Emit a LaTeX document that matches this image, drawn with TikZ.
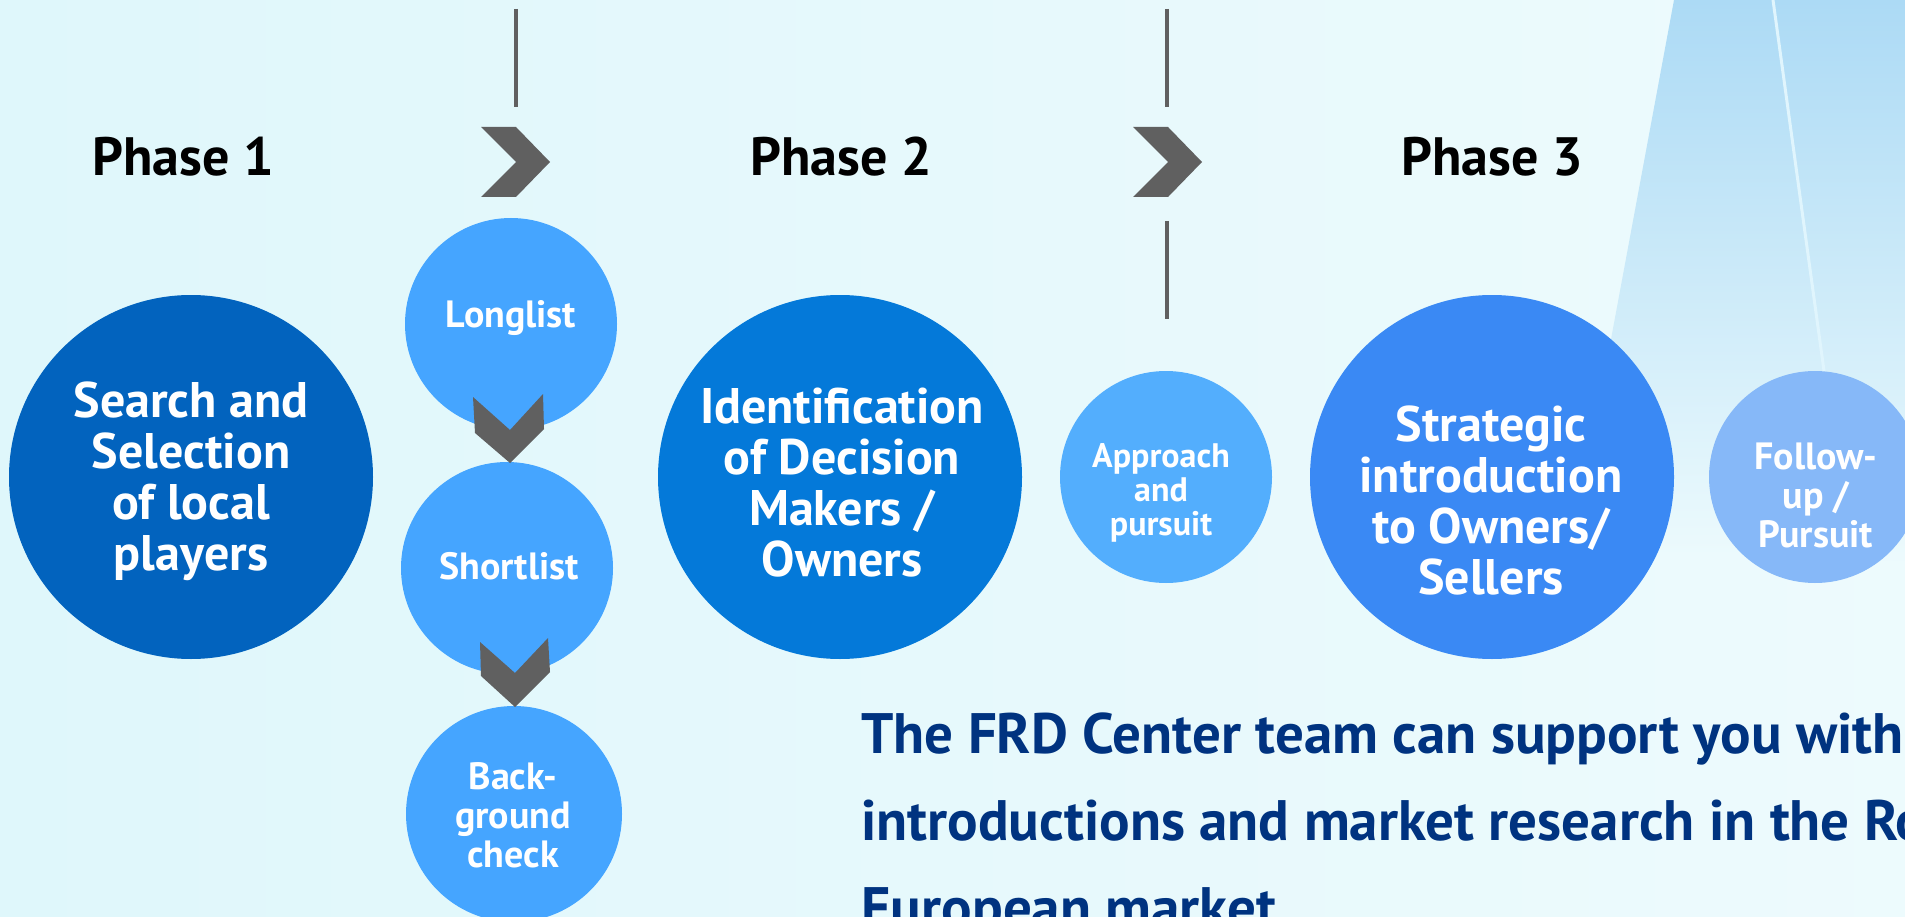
\documentclass[tikz,border=0pt]{standalone}
\usepackage{fontspec}
\setmainfont{PT Sans}

\definecolor{bgcyan}{RGB}{223,247,251}
\definecolor{raybl}{RGB}{172,218,245}
\definecolor{deepbl}{RGB}{2,99,190}
\definecolor{midbl}{RGB}{4,121,217}
\definecolor{skybl}{RGB}{69,165,255}
\definecolor{apprbl}{RGB}{83,174,253}
\definecolor{stratbl}{RGB}{58,137,244}
\definecolor{palebl}{RGB}{134,184,248}
\definecolor{chevgray}{RGB}{96,96,96}
\definecolor{navytxt}{RGB}{0,51,128}

\begin{document}
\begin{tikzpicture}[x=1pt, y=-1pt,
  disc/.style={circle, inner sep=0pt, minimum size=#1},
  bigtxt/.style={text=white, align=center, inner sep=0pt,
    font=\bfseries\fontsize{50}{51}\selectfont},
  midtxt/.style={text=white, align=center, inner sep=0pt,
    font=\bfseries\fontsize{38}{39}\selectfont},
  smalltxt/.style={text=white, align=center, inner sep=0pt,
    font=\bfseries\fontsize{34}{34}\selectfont},
  phase/.style={anchor=base, inner sep=0pt,
    font=\bfseries\fontsize{54}{60}\selectfont},
  pitch/.style={anchor=base west, inner sep=0pt, text=navytxt,
    font=\bfseries\fontsize{57}{60}\selectfont},
  chev/.style={fill=chevgray},
  sep/.style={draw=chevgray, line width=4pt}]
  \useasboundingbox (0,0) rectangle (1905,917);
  \clip (0,0) rectangle (1905,917);
  % backdrop and light rays
  \shade[left color=bgcyan, right color=bgcyan!55!white]
    (0,0) rectangle (1905,917);
  \shade[top color=raybl, bottom color=bgcyan!58!white]
    (1674,0) -- (1905,0) -- (1905,560) -- (1570,560) -- cycle;
  \draw[cyan!12, line width=3pt] (1773,0) -- (1850,560);

  % separators between the phases
  \coordinate (s1a) at (516,9);   \coordinate (s1b) at (516,107);
  \coordinate (s2a) at (1167,9);  \coordinate (s2b) at (1167,107);
  \coordinate (s2c) at (1167,221); \coordinate (s2d) at (1167,319);
  \draw[sep] (s1a) -- (s1b);
  \draw[sep] (s2a) -- (s2b);
  \draw[sep] (s2c) -- (s2d);
  \foreach \x in {481,1133} {
    \fill[chev] (\x,127) -- ++(35,0) -- ++(34,35) -- ++(-34,35)
      -- ++(-35,0) -- ++(35,-35) -- cycle;
  }

  \node[phase] (p1) at (183,176) {Phase 1};
  \node[phase] (p2) at (841,176) {Phase 2};
  \node[phase] (p3) at (1492,176) {Phase 3};

  % main steps
  \node[disc=364, fill=deepbl]  (search) at (191,477) {};
  \node[disc=364, fill=midbl]   (ident)  at (840,477) {};
  \node[disc=212, fill=apprbl]  (appr)   at (1166,477) {};
  \node[disc=364, fill=stratbl] (strat)  at (1492,477) {};
  \node[disc=212, fill=palebl]  (follow) at (1815,477) {};
  % the list steps
  \node[disc=212, fill=skybl] (long)  at (511,324) {};
  \node[disc=212, fill=skybl] (short) at (507,568) {};
  \node[disc=216, fill=skybl] (check) at (514,814) {};
  \fill[chev] (473,397) -- (510,430) -- (543,394) -- (544,429)
    -- (510,463) -- (475,433) -- cycle;
  \fill[chev] (480,642) -- (515,673) -- (548,638) -- (550,672)
    -- (515,707) -- (481,676) -- cycle;

  \node[bigtxt] (searcht) at (191,481) {Search and\\Selection\\of local\\players};
  \node[bigtxt] (identt)  at (842,483) {Identification\\of Decision\\Makers /\\Owners};
  \node[bigtxt] (stratt)  at (1491,500) {Strategic\\introduction\\to Owners/\\Sellers};
  \node[smalltxt] (apprt) at (1161,493) {Approach\\and\\pursuit};
  \node[midtxt] (followt) at (1816,495) {Follow-\\up /\\Pursuit};
  \node[midtxt] (longt)  at (511,318) {Longlist};
  \node[midtxt] (shortt) at (509,566) {Shortlist};
  \node[midtxt] (checkt) at (513,815) {Back-\\ground\\check};

  \node[pitch] (pitch1) at (861,753) {The FRD Center team can support you with};
  \node[pitch] (pitch2) at (861,840) {introductions and market research in the Romanian};
  \node[pitch] (pitch3) at (861,927) {European market};
\end{tikzpicture}
\end{document}
